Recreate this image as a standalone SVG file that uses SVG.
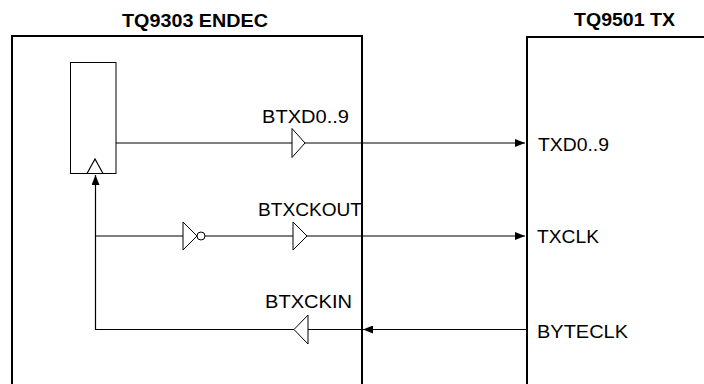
<svg xmlns="http://www.w3.org/2000/svg" width="704" height="384" viewBox="0 0 704 384">
<style>
text{font-family:"Liberation Sans",Arial,sans-serif;font-size:19px;fill:#000}
.t{font-weight:bold}
.wall{fill:none;stroke:#000;stroke-width:2}
.w{fill:none;stroke:#000;stroke-width:1.2}
.g{fill:#fff;stroke:#000;stroke-width:1}
</style>
<defs>
<marker id="ah" viewBox="0 0 10 8" refX="10" refY="4" markerWidth="10" markerHeight="8" markerUnits="userSpaceOnUse" orient="auto">
<path d="M0,0 L10,4 L0,8 Z" fill="#000"/>
</marker>
</defs>
<rect width="704" height="384" fill="#fff"/>
<g id="endec">
<path class="wall" d="M12,390 V36 H362 V390"/>
<text class="t" x="122" y="26.5" textLength="146" lengthAdjust="spacingAndGlyphs">TQ9303 ENDEC</text>
</g>
<g id="tx">
<path class="wall" d="M527,390 V37 H710"/>
<text class="t" x="574" y="26" textLength="101" lengthAdjust="spacingAndGlyphs">TQ9501 TX</text>
<text x="538" y="151" textLength="71" lengthAdjust="spacingAndGlyphs">TXD0..9</text>
<text x="537" y="243" textLength="62" lengthAdjust="spacingAndGlyphs">TXCLK</text>
<text x="537" y="338" textLength="91" lengthAdjust="spacingAndGlyphs">BYTECLK</text>
</g>
<g id="register">
<rect class="g" x="70.5" y="62.5" width="45.5" height="111"/>
<path class="w" d="M87,173.5 L95,159 L103,173.5"/>
</g>
<g id="buf_btxd">
<path class="g" d="M292,128.5 L305,143 L292,157.5 Z"/>
<text x="262" y="123" textLength="87" lengthAdjust="spacingAndGlyphs">BTXD0..9</text>
</g>
<g id="inv">
<path class="g" d="M183,222 L197,236 L183,250 Z"/>
<circle class="g" cx="201" cy="236" r="4"/>
</g>
<g id="buf_btxckout">
<path class="g" d="M293,222 L307,236 L293,250 Z"/>
<text x="258" y="216" textLength="104" lengthAdjust="spacingAndGlyphs">BTXCKOUT</text>
</g>
<g id="buf_btxckin">
<path class="g" d="M308,315 L294,329.5 L308,344 Z"/>
<text x="265" y="308" textLength="87" lengthAdjust="spacingAndGlyphs">BTXCKIN</text>
</g>
<g id="connectors">
<line class="w" x1="116" y1="143" x2="292" y2="143"/>
<line class="w" x1="305" y1="143" x2="525" y2="143" marker-end="url(#ah)"/>
<line class="w" x1="95" y1="236" x2="183" y2="236"/>
<line class="w" x1="205" y1="236" x2="293" y2="236"/>
<line class="w" x1="307" y1="236" x2="525" y2="236" marker-end="url(#ah)"/>
<line class="w" x1="526" y1="329.5" x2="363" y2="329.5" marker-end="url(#ah)"/>
<line class="w" x1="362" y1="329.5" x2="308" y2="329.5"/>
<polyline class="w" points="294,329.5 95.5,329.5 95.5,175" marker-end="url(#ah)"/>
</g>
</svg>
